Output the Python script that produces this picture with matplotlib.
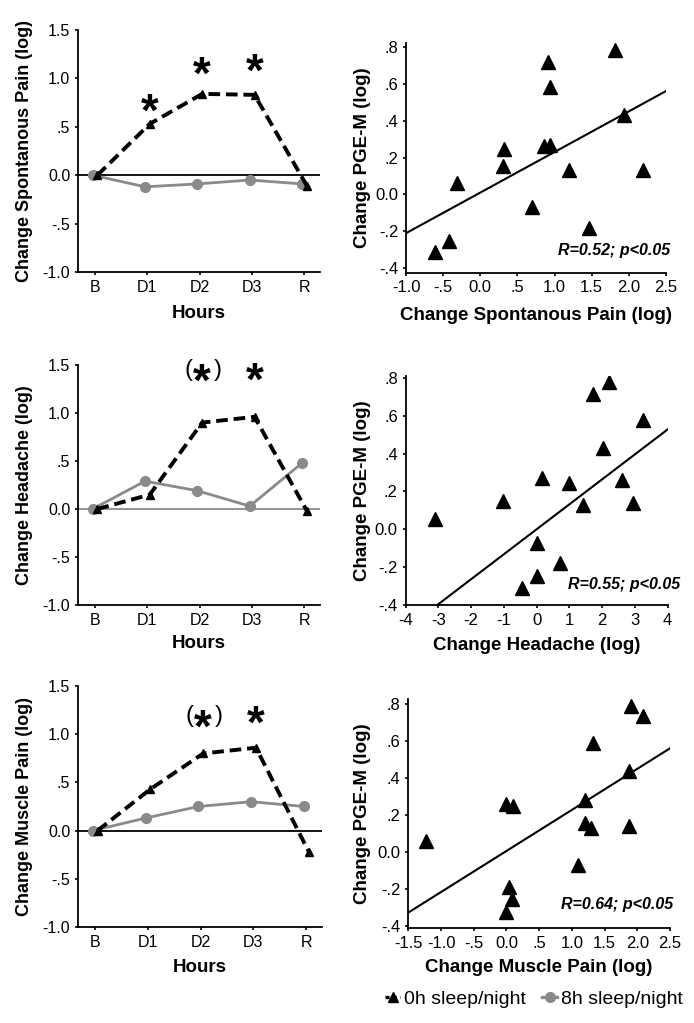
import matplotlib
matplotlib.use('Agg')
import matplotlib.pyplot as plt
import numpy as np
from matplotlib.lines import Line2D

plt.rcParams['font.family'] = ['Liberation Sans', 'DejaVu Sans']

# ---------------- data ----------------
hours = ['B', 'D1', 'D2', 'D3', 'R']

spont_0h = [0.00, 0.53, 0.84, 0.83, -0.11]
spont_8h = [0.00, -0.12, -0.09, -0.05, -0.09]
head_0h = [0.00, 0.15, 0.90, 0.96, -0.02]
head_8h = [0.00, 0.29, 0.19, 0.03, 0.48]
muscle_0h = [0.00, 0.43, 0.80, 0.86, -0.22]
muscle_8h = [0.00, 0.13, 0.25, 0.30, 0.25]

line_yticks = [-1.0, -0.5, 0.0, 0.5, 1.0, 1.5]
line_yticklabels = ['-1.0', '-.5', '0.0', '.5', '1.0', '1.5']

# significance marks: (hour index, y position, text)
spont_stars = [(1, 0.78, '*'), (2, 1.16, '*'), (3, 1.19, '*')]
head_stars = [(2, 1.45, '(*)'), (3, 1.46, '*')]
muscle_stars = [(2, 1.19, '(*)'), (3, 1.23, '*')]

spont_x = [-0.61, -0.42, -0.32, 0.31, 0.32, 0.70, 0.86, 0.91, 0.94, 0.94, 1.20, 1.46, 1.81, 1.93, 2.19]
spont_y = [-0.31, -0.25, 0.06, 0.155, 0.245, -0.07, 0.26, 0.715, 0.58, 0.27, 0.13, -0.18, 0.78, 0.43, 0.135]
head_x = [-3.10, -1.02, 0.17, -0.46, 0.02, 0.02, 0.71, 0.99, 1.42, 1.71, 2.21, 2.03, 2.61, 2.93, 3.25]
head_y = [0.054, 0.151, 0.269, -0.312, -0.071, -0.247, -0.18, 0.242, 0.128, 0.717, 0.779, 0.432, 0.26, 0.137, 0.577]
muscle_x = [-1.23, -0.01, 0.10, 0.04, 0.08, 0.00, 1.10, 1.20, 1.20, 1.29, 1.33, 1.87, 1.87, 1.90, 2.09]
muscle_y = [0.06, 0.26, 0.25, -0.185, -0.25, -0.32, -0.07, 0.28, 0.16, 0.13, 0.59, 0.44, 0.14, 0.79, 0.735]

# fitted regression lines (slope, intercept)
spont_fit = (0.220, 0.010)
head_fit = (0.132, 0.000)
muscle_fit = (0.2215, 0.007)

spont_r = 'R=0.52; p<0.05'
head_r = 'R=0.55; p<0.05'
muscle_r = 'R=0.64; p<0.05'

pge_yticks = [-0.4, -0.2, 0.0, 0.2, 0.4, 0.6, 0.8]
pge_yticklabels = ['-.4', '-.2', '0.0', '.2', '.4', '.6', '.8']
spont_xticks = [-1.0, -0.5, 0.0, 0.5, 1.0, 1.5, 2.0, 2.5]
spont_xticklabels = ['-1.0', '-.5', '0.0', '.5', '1.0', '1.5', '2.0', '2.5']
head_xticks = [-4, -3, -2, -1, 0, 1, 2, 3, 4]
head_xticklabels = ['-4', '-3', '-2', '-1', '0', '1', '2', '3', '4']
muscle_xticks = [-1.5, -1.0, -0.5, 0.0, 0.5, 1.0, 1.5, 2.0, 2.5]
muscle_xticklabels = ['-1.5', '-1.0', '-.5', '0.0', '.5', '1.0', '1.5', '2.0', '2.5']

legend_labels = ['0h sleep/night', '8h sleep/night']

# ---------------- figure ----------------
W, H = 694, 1023
fig = plt.figure(figsize=(W / 100, H / 100), dpi=100)
GRAY = '#8a8a8a'


def rect(x0, x1, ytop, ybot):
    return [x0 / W, 1 - ybot / H, (x1 - x0) / W, (ybot - ytop) / H]


def fx(px):
    return px / W


def fy(py):
    return 1 - py / H


def style(ax, fs):
    for s in ['top', 'right']:
        ax.spines[s].set_visible(False)
    for s in ['left', 'bottom']:
        ax.spines[s].set_linewidth(1.3)
    ax.tick_params(length=2.5, width=1.2, labelsize=fs, pad=3, colors='black')


def line_panel(pos, y0h, y8h, ylabel, zero_color, stars, ylab_px, xlab_py):
    ax = fig.add_axes(pos)
    x = np.arange(len(hours))
    ax.axhline(0, color=zero_color, lw=1.3, zorder=1)
    ax.plot(x - 0.04, y8h, color=GRAY, lw=2.0, marker='o', ms=7, zorder=2)
    ax.plot(x + 0.05, y0h, color='black', lw=2.8, ls=(0, (3.0, 1.5)),
            marker='^', ms=6, zorder=3)
    ax.set_xlim(-0.32, 4.3)
    ax.set_ylim(-1.0, 1.5)
    ax.set_xticks(x, hours)
    ax.set_yticks(line_yticks, line_yticklabels)
    style(ax, 11.5)
    fig.text(fx(ylab_px), pos[1] + pos[3] / 2, ylabel, rotation=90, ha='center',
             va='center', fontsize=13, fontweight='bold')
    fig.text(pos[0] + pos[2] / 2, fy(xlab_py), 'Hours', ha='center', va='center',
             fontsize=13.5, fontweight='bold')
    fs_star = 33
    for (xi, yv, txt) in stars:
        ax.annotate('*', (xi + 0.05, yv), xytext=(0, -0.56 * fs_star),
                    textcoords='offset points', ha='center', va='baseline',
                    fontsize=fs_star, fontweight='bold')
        if txt.startswith('('):
            ax.annotate('(', (xi - 0.21, yv), xytext=(0, -0.27 * 17),
                        textcoords='offset points', ha='center', va='baseline',
                        fontsize=17)
            ax.annotate(')', (xi + 0.34, yv), xytext=(0, -0.27 * 17),
                        textcoords='offset points', ha='center', va='baseline',
                        fontsize=17)
    return ax


def scatter_panel(pos, xs, ys, fit, xlim, ylim, xticks, xticklabels, xlabel,
                  rtext, r_px, xlab_py):
    ax = fig.add_axes(pos)
    ax.plot(xs, ys, ls='none', marker='^', ms=9.5, color='black', zorder=3)
    xl = np.array(xlim)
    ax.plot(xl, fit[0] * xl + fit[1], color='black', lw=1.5, zorder=2)
    ax.set_xlim(*xlim)
    ax.set_ylim(*ylim)
    ax.set_xticks(xticks, xticklabels)
    ax.set_yticks(pge_yticks, pge_yticklabels)
    style(ax, 12)
    fig.text(fx(362), pos[1] + pos[3] / 2, 'Change PGE-M (log)', rotation=90,
             ha='center', va='center', fontsize=13.5, fontweight='bold')
    fig.text(pos[0] + pos[2] / 2, fy(xlab_py), xlabel, ha='center', va='center',
             fontsize=13.5, fontweight='bold')
    fig.text(fx(r_px[0]), fy(r_px[1]), rtext, ha='right', va='center',
             fontsize=11.5, fontweight='bold', style='italic')
    return ax


line_panel(rect(78, 320, 30, 272), spont_0h, spont_8h,
           'Change Spontanous Pain (log)', 'black', spont_stars, 25, 313)
line_panel(rect(78, 320, 365, 605), head_0h, head_8h,
           'Change Headache (log)', GRAY, head_stars, 25, 643)
line_panel(rect(78, 322, 686, 927), muscle_0h, muscle_8h,
           'Change Muscle Pain (log)', 'black', muscle_stars, 25, 967)

scatter_panel(rect(406, 666, 42.7, 272.7), spont_x, spont_y, spont_fit,
              (-1.0, 2.5), (-0.424, 0.822), spont_xticks, spont_xticklabels,
              'Change Spontanous Pain (log)', spont_r, (670, 250), 315)
scatter_panel(rect(405.5, 667.7, 376, 605), head_x, head_y, head_fit,
              (-4, 4), (-0.40, 0.81), head_xticks, head_xticklabels,
              'Change Headache (log)', head_r, (680, 585), 645)
scatter_panel(rect(408.3, 670, 699.3, 928.3), muscle_x, muscle_y, muscle_fit,
              (-1.5, 2.5), (-0.41, 0.825), muscle_xticks, muscle_xticklabels,
              'Change Muscle Pain (log)', muscle_r, (673, 905), 968)

handles = [Line2D([], [], color='black', lw=2.4, ls=(0, (1.2, 1.0)), marker='^', ms=7),
           Line2D([], [], color=GRAY, lw=2.4, marker='o', ms=7)]
fig.legend(handles, legend_labels, loc='center', bbox_to_anchor=(fx(534), fy(999)),
           ncol=2, frameon=False, fontsize=14, handlelength=0.8,
           handletextpad=0.2, columnspacing=0.8)

fig.savefig('out.png', dpi=100)
